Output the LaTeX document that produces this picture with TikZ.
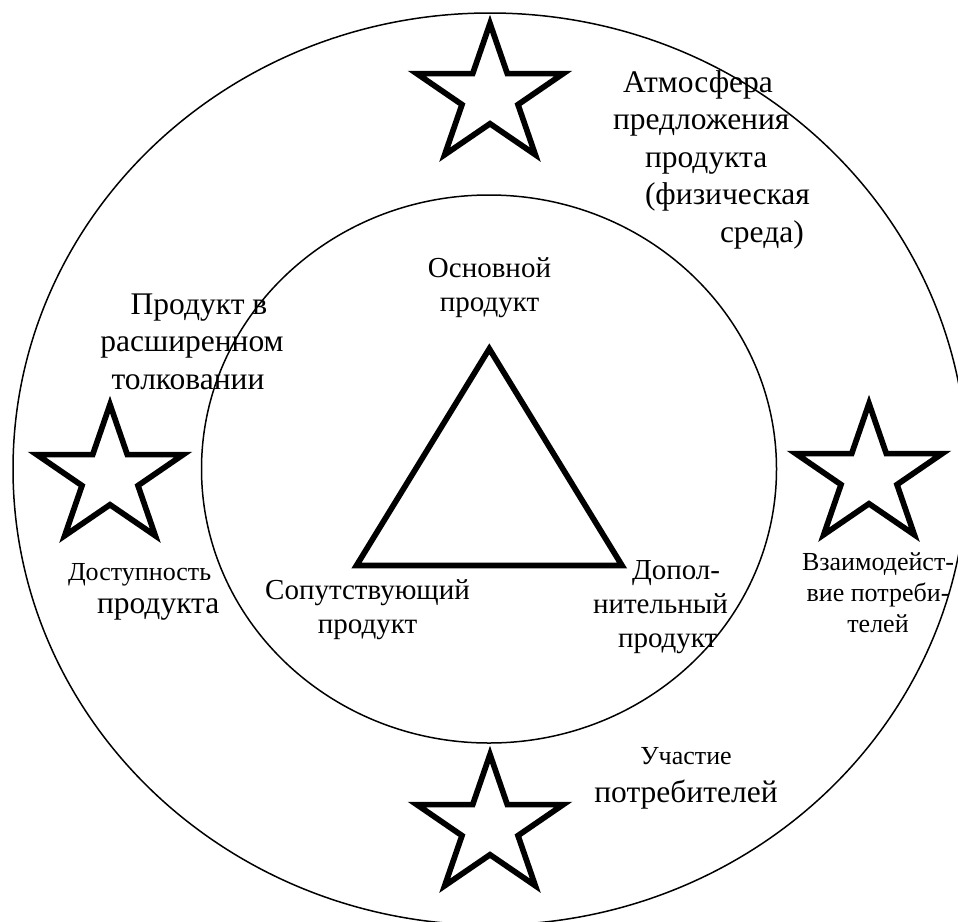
\documentclass[tikz,border=0pt]{standalone}
\usepackage{fontspec}
\setmainfont{Liberation Serif}
\newcommand\fbig{\fontsize{31.5}{37.5}\selectfont}
\newcommand\fmid{\fontsize{29}{34}\selectfont}
\newcommand\fsmall{\fontsize{26}{31}\selectfont}
\begin{document}
\begin{tikzpicture}[x=1pt,y=-1pt,
  ring/.style={line width=1.5pt},
  heavy/.style={line width=5.7pt, line join=miter, miter limit=10},
  lbl/.style={inner sep=0pt, outer sep=0pt},
  pics/bigstar/.style={code={
    \draw[heavy] (0,-72.5) -- (-17.3,-22.4) -- (-73.2,-22.4) -- (-28,8.6)
      -- (-45.3,58.7) -- (0,27.7) -- (45.3,58.7) -- (28,8.6)
      -- (73.2,-22.4) -- (17.3,-22.4) -- cycle;}}]
\clip (0,0) rectangle (958,921);
% rings
\draw[ring] (490,469) ellipse [x radius=477, y radius=456];
\draw[ring] (489,469) ellipse [x radius=287.5, y radius=274];
% triangle
\coordinate (apex) at (489.3,348.8);
\coordinate (bl) at (356.5,565.5);
\coordinate (br) at (622,565.5);
\draw[heavy] (apex) -- (bl) -- (br) -- cycle;
% stars
\pic at (490,96) {bigstar};
\pic at (110,477) {bigstar};
\pic at (869,476) {bigstar};
\pic at (490,827) {bigstar};
% labels (anchor = baseline of the last line)
\node[lbl, font=\fbig, align=left, anchor=base west] (atm) at (613,242)
  {\hspace*{10pt}Атмосфера\\предложения\\\hspace*{32pt}продукта\\\hspace*{32pt}(физическая\\\hspace*{107pt}среда)};
\node[lbl, font=\fbig, align=center, anchor=base] (ext) at (192,389)
  {\hspace*{14pt}Продукт в\\расширенном\\толковании\hspace*{8pt}};
\node[lbl, font=\fmid, align=center, anchor=base] (core) at (489.5,311)
  {Основной\\продукт};
\node[lbl, font=\fmid, align=center, anchor=base] (acc) at (367.5,633)
  {Сопутствующий\\продукт};
\node[lbl, font=\fmid, align=left, anchor=base west] (sup) at (593,647)
  {\hspace*{39pt}Допол-\\нительный\\\hspace*{25pt}продукт};
\node[lbl, font=\fbig, align=left, anchor=base west] (avail) at (68,613)
  {{\fsmall Доступность}\\[-4.5pt]\hspace*{29pt}продукта};
\node[lbl, font=\fsmall, align=center, anchor=base] (inter) at (878,632)
  {Взаимодейст-\\вие потреби-\\телей};
\node[lbl, font=\fbig, align=center, anchor=base] (part) at (686,802)
  {{\fsmall Участие}\\потребителей};
\end{tikzpicture}
\end{document}
